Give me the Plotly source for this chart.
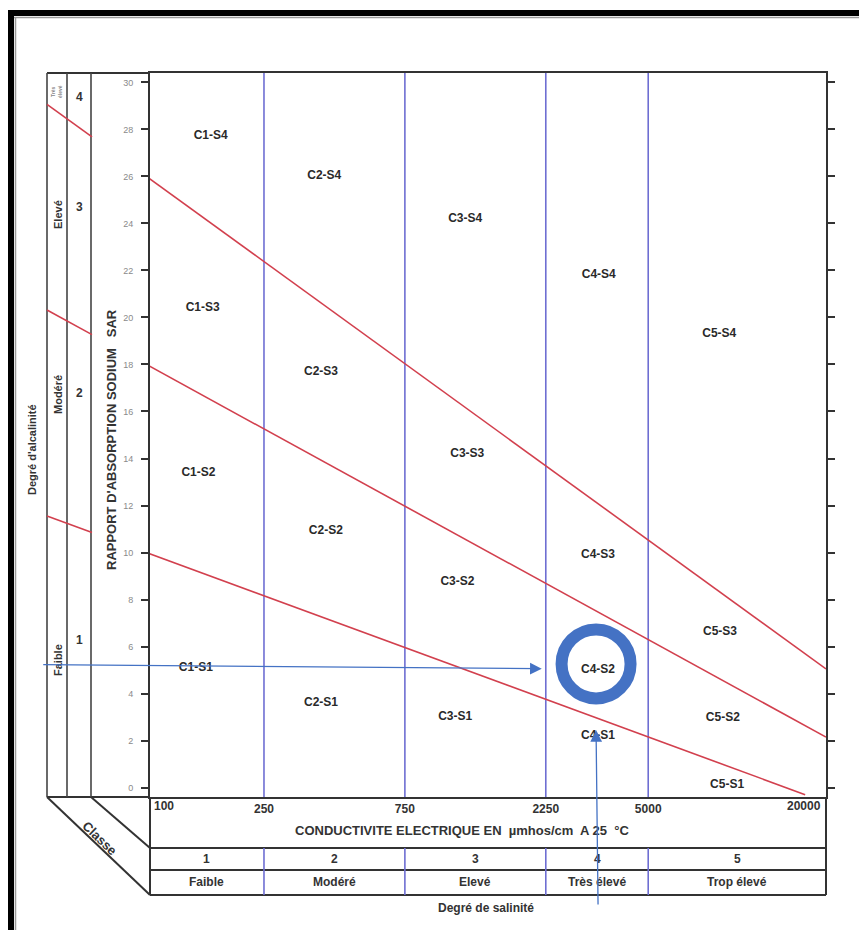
import math
import plotly.graph_objects as go

# ---------------- data ----------------
ec_class_limits = [250, 750, 2250, 5000]
ec_tick_text = ["250", "750", "2250", "5000"]
ec_first_label = "100"
ec_last_label = "20000"
sar_tick_values = list(range(0, 31, 2))

# boundary lines (EC in µmhos/cm, SAR)
s1_s2_ec = [100, 17000]
s1_s2_sar = [10.0, -0.3]
s2_s3_ec = [100, 20000]
s2_s3_sar = [18.0, 2.15]
s3_s4_ec = [100, 20000]
s3_s4_sar = [26.0, 5.05]

salinity_class_numbers = ["1", "2", "3", "4", "5"]
salinity_class_names = ["Faible", "Modéré", "Elevé", "Très élevé", "Trop élevé"]
alkalinity_class_numbers = ["1", "2", "3", "4"]
alkalinity_class_names = ["Faible", "Modéré", "Elevé", "Très<br>élevé"]

zone_labels = ["C1-S4", "C2-S4", "C3-S4", "C4-S4", "C5-S4",
               "C1-S3", "C2-S3", "C3-S3", "C4-S3", "C5-S3",
               "C1-S2", "C2-S2", "C3-S2", "C4-S2", "C5-S2",
               "C1-S1", "C2-S1", "C3-S1", "C4-S1", "C5-S1"]
zone_ec = [165, 400, 1200, 3400, 8700,
           155, 390, 1220, 3380, 8750,
           150, 405, 1130, 3380, 8950,
           147, 390, 1110, 3380, 9250]
zone_sar = [27.7, 26.0, 24.2, 21.8, 19.3,
            20.4, 17.7, 14.2, 9.9, 6.6,
            13.4, 10.9, 8.75, 5.0, 2.96,
            5.1, 3.6, 3.0, 2.2, 0.1]

sample_ec = 3330
sample_sar = 5.26
arrow_h_ec = 2180
arrow_h_sar = 5.06
arrow_v_sar = 2.45

# ---------------- layout geometry (page pixel coordinates) ----------------
OFF = 8                      # browser body margin
PAGE_W, PAGE_H = 867, 938
W, H = PAGE_W - OFF, PAGE_H - 2 * OFF
L, R, T, B = 150, 826, 73, 797
XR = [2.012, 4.301]
YR = [-0.4, 30.4]
FONT = "Liberation Sans"
DARK = "#333333"
RED = "#D2404E"
LAV = "#6E6ED2"
BLUE = "#4472C4"


def px(x):
    return (x - L) / (R - L)


def py(y):
    return (B - y) / (B - T)


def log_at_paper(X):
    return XR[0] + X * (XR[1] - XR[0])


def sar_at(ec_pair, sar_pair, lg):
    l0, l1 = math.log10(ec_pair[0]), math.log10(ec_pair[1])
    return sar_pair[0] + (sar_pair[1] - sar_pair[0]) * (lg - l0) / (l1 - l0)


def sar_to_paper(s):
    return (s - YR[0]) / (YR[1] - YR[0])


fig = go.Figure()

# class-limit verticals inside the plot
for ec in ec_class_limits:
    fig.add_trace(go.Scatter(x=[ec, ec], y=YR, mode="lines",
                             line=dict(color=LAV, width=1.6),
                             hoverinfo="skip", showlegend=False))

# SAR boundary lines
for ecs, sars in [(s1_s2_ec, s1_s2_sar), (s2_s3_ec, s2_s3_sar), (s3_s4_ec, s3_s4_sar)]:
    fig.add_trace(go.Scatter(x=ecs, y=sars, mode="lines",
                             line=dict(color=RED, width=1.6),
                             hoverinfo="skip", showlegend=False))

# zone labels
fig.add_trace(go.Scatter(x=zone_ec, y=zone_sar, mode="text", text=zone_labels,
                         textfont=dict(family=FONT, size=12, color="#2a2a2a", weight="bold"),
                         hoverinfo="skip", showlegend=False))

# sample circle
fig.add_trace(go.Scatter(x=[sample_ec], y=[sample_sar], mode="markers",
                         marker=dict(symbol="circle-open", size=69, color=BLUE,
                                     line=dict(width=12, color=BLUE)),
                         hoverinfo="skip", showlegend=False))

shapes = []


def pline(x0, y0, x1, y1, color=DARK, width=2):
    shapes.append(dict(type="line", xref="paper", yref="paper",
                       x0=px(x0), y0=py(y0), x1=px(x1), y1=py(y1),
                       line=dict(color=color, width=width), layer="above"))


# outer picture frame
pline(8, 13, 875, 13, "#000000", 6)
pline(11, 10, 11, 945, "#000000", 6)
pline(14, 17.5, 875, 17.5, "#9a9a9a", 1.5)
pline(15.5, 17, 15.5, 945, "#9a9a9a", 1.5)

# left alkalinity columns
pline(47, T, L, T)
pline(47, B, L, B)
for xx in (47, 67, 91):
    pline(xx, T, xx, B, "#444444", 1.6)

# red boundary continuations in the alkalinity column
for ecs, sars in [(s1_s2_ec, s1_s2_sar), (s2_s3_ec, s2_s3_sar), (s3_s4_ec, s3_s4_sar)]:
    Xa, Xb = px(47), px(92)
    ya = sar_to_paper(sar_at(ecs, sars, log_at_paper(Xa)))
    yb = sar_to_paper(sar_at(ecs, sars, log_at_paper(Xb)))
    shapes.append(dict(type="line", xref="paper", yref="paper", x0=Xa, y0=ya, x1=Xb, y1=yb,
                       line=dict(color=RED, width=1.6), layer="above"))

# classe diagonals
pline(47, B, L, 895)
pline(91, B, L, 848)

# bottom table
for yy in (848, 870, 895):
    pline(L, yy, R, yy)
pline(L, B, L, 895)
pline(R, B, R, 895)
for ec in ec_class_limits:
    shapes.append(dict(type="line", xref="x", yref="paper", x0=ec, x1=ec,
                       y0=py(848), y1=py(895), line=dict(color=LAV, width=1.6), layer="above"))

annotations = []


def ptext(x, y, text, size=11, angle=0, color=DARK, xanchor="center", bold=True):
    annotations.append(dict(x=px(x), y=py(y), xref="paper", yref="paper", text=text,
                            showarrow=False, textangle=angle, xanchor=xanchor, yanchor="middle",
                            font=dict(family=FONT, size=size, color=color,
                                      weight="bold" if bold else "normal")))


# x end labels
ptext(152, 806, ec_first_label, size=12, xanchor="left")
ptext(823, 806, ec_last_label, size=12, xanchor="right")
ptext(462, 830, "CONDUCTIVITE ELECTRIQUE EN  µmhos/cm  A 25  °C", size=13)

# salinity classes in table (centred in cells in log space)
edges = [XR[0]] + [math.log10(v) for v in ec_class_limits] + [XR[1]]
for i in range(5):
    mid = (edges[i] + edges[i + 1]) / 2
    for yy, txt in ((859, salinity_class_numbers[i]), (882, salinity_class_names[i])):
        annotations.append(dict(x=mid, y=py(yy), xref="x", yref="paper", text=txt,
                                showarrow=False, yanchor="middle",
                                font=dict(family=FONT, size=12, color=DARK, weight="bold")))
ptext(486, 908, "Degré de salinité", size=12)
ptext(100, 838, "Classe", size=13, angle=44)

# alkalinity column texts
alk_num_y = [640, 393, 207, 97]
alk_name_y = [660, 395, 215, 92]
for i in range(4):
    ptext(79, alk_num_y[i], alkalinity_class_numbers[i], size=12)
    if i < 3:
        ptext(58, alk_name_y[i], alkalinity_class_names[i], size=11, angle=-90)
    else:
        ptext(57, alk_name_y[i], alkalinity_class_names[i], size=5, angle=-90, color="#888888")
ptext(32, 450, "Degré d'alcalinité", size=11, angle=-90)
ptext(112, 440, "RAPPORT D'ABSORPTION SODIUM   SAR", size=13, angle=-90)

# blue arrows
annotations.append(dict(x=math.log10(arrow_h_ec), y=arrow_h_sar, xref="x", yref="y",
                        ax=-500, ay=-4, axref="pixel", ayref="pixel", text="",
                        showarrow=True, arrowhead=2, arrowsize=1.8, arrowwidth=1.3,
                        arrowcolor=BLUE, standoff=0))
annotations.append(dict(x=math.log10(sample_ec), y=arrow_v_sar, xref="x", yref="y",
                        ax=2, ay=176, axref="pixel", ayref="pixel", text="",
                        showarrow=True, arrowhead=2, arrowsize=1.8, arrowwidth=1.3,
                        arrowcolor=BLUE, standoff=0))

fig.update_layout(
    width=W, height=H, autosize=False,
    margin=dict(l=L - OFF, r=PAGE_W - R, t=T - OFF, b=H - (B - OFF), pad=0),
    paper_bgcolor="white", plot_bgcolor="white",
    showlegend=False,
    shapes=shapes, annotations=annotations,
    xaxis=dict(type="log", range=XR, showgrid=False, zeroline=False,
               tickvals=ec_class_limits, ticktext=ec_tick_text, ticks="",
               tickfont=dict(family=FONT, size=12, color=DARK, weight="bold"),
               showline=True, mirror=True, linecolor=DARK, linewidth=2),
    yaxis=dict(range=YR, showgrid=False, zeroline=False,
               tickvals=sar_tick_values, ticks="outside", ticklen=7, tickwidth=2,
               tickcolor=DARK, ticklabelstandoff=6,
               tickfont=dict(family=FONT, size=9, color="#8a8a8a"),
               showline=True, mirror="ticks", linecolor=DARK, linewidth=2),
)

fig.write_html("out.html")
